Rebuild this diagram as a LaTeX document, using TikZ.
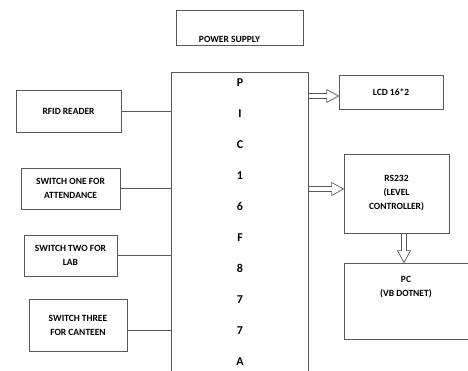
\documentclass[tikz,border=0pt]{standalone}
\usepackage{fontspec}
\setmainfont{Carlito}
\usetikzlibrary{positioning, calc}

\begin{document}
\begin{tikzpicture}[x=1pt, y=-1pt,
        block/.style={draw=black!65, line width=0.8pt, font=\bfseries\fontsize{9.5}{14}\selectfont, align=center, inner sep=0pt},
        wire/.style={draw=black!65, line width=0.8pt},
        bus/.style={draw=black!65, line width=0.7pt, to path={
            ($(\tikztostart)!2.5pt!90:(\tikztotarget)$)
            -- ($(\tikztotarget)!12pt!(\tikztostart)!2.5pt!-90:(\tikztostart)$)
            -- ($(\tikztotarget)!12pt!(\tikztostart)!6.5pt!-90:(\tikztostart)$)
            -- (\tikztotarget)
            -- ($(\tikztotarget)!12pt!(\tikztostart)!6.5pt!90:(\tikztostart)$)
            -- ($(\tikztotarget)!12pt!(\tikztostart)!2.5pt!90:(\tikztostart)$)
            -- ($(\tikztostart)!2.5pt!-90:(\tikztotarget)$)}}]
        \clip (0, 0) rectangle (468, 371);
        \fill[white] (0, 0) rectangle (468, 371);

        \node[block, minimum width=127, minimum height=35,
              label={[font=\bfseries\fontsize{9.5}{12}\selectfont, anchor=south, xshift=-10pt, yshift=-1pt]south:POWER SUPPLY}] (power) at (239.5, 27.5) {};
        \node[block, minimum width=137, minimum height=320] (pic) at (239.5, 232) {};
        \node[font=\bfseries\fontsize{12}{31}\selectfont, align=center] (picname) at (240, 222) {P\\I\\C\\1\\6\\F\\8\\7\\7\\A};

        \node[block, minimum width=105, minimum height=42] (rfid) at (68.5, 111) {RFID READER};
        \node[block, minimum width=99, minimum height=41] (swone) at (70.5, 188.5) {SWITCH ONE FOR\\ATTENDANCE};
        \node[block, minimum width=93, minimum height=41] (swtwo) at (70.5, 255.5) {SWITCH TWO FOR\\LAB};
        \node[block, minimum width=98, minimum height=52] (swthree) at (78, 325) {SWITCH THREE\\FOR CANTEEN};

        \node[block, minimum width=104, minimum height=34] (lcd) at (391, 92) {LCD 16*2};
        \node[block, minimum width=105, minimum height=79] (rs) at (396.5, 193.5) {RS232\\(LEVEL\\CONTROLLER)};
        \node[block, minimum width=124, minimum height=76,
              label={[font=\bfseries\fontsize{9.5}{14}\selectfont, align=center, anchor=north, yshift=-10pt]north:PC\\(VB DOTNET)}] (pc) at (406, 301) {};

        \draw[wire] (rfid.east) -- (rfid.east -| pic.west);
        \draw[wire] (swone.east) -- (swone.east -| pic.west);
        \draw[wire] (swtwo.east) -- (swtwo.east -| pic.west);
        \draw[wire] ([yshift=-5pt]swthree.east) -- ([yshift=-5pt]swthree.east -| pic.west);

        \coordinate (lcdin) at ([yshift=-4pt]lcd.west);
        \coordinate (rsin) at ([yshift=4.5pt]rs.west);
        \coordinate (rsout) at ([xshift=7.5pt]rs.south);
        \draw[bus] (lcdin -| pic.east) to (lcdin);
        \draw[bus] (rsin -| pic.east) to (rsin);
        \draw[bus] (rsout) to (rsout |- pc.north);
    \end{tikzpicture}
\end{document}
